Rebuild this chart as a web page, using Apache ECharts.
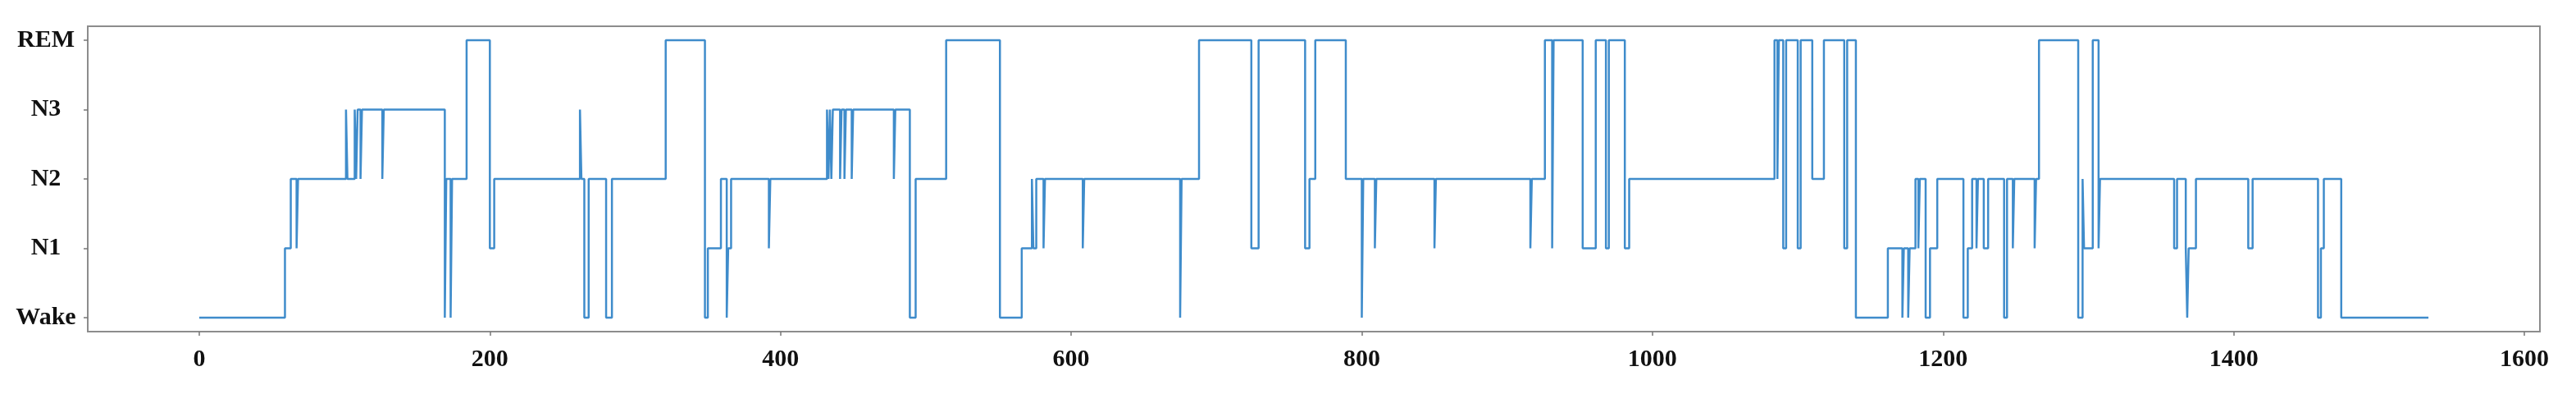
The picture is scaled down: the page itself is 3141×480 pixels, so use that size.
<!DOCTYPE html>
<html>
<head>
<meta charset="utf-8">
<script src="https://cdn.jsdelivr.net/npm/echarts@6/dist/echarts.min.js"></script>
<style>
  html, body { margin: 0; padding: 0; background: #fff; }
  #chart { width: 3141px; height: 480px; }
</style>
</head>
<body>
<div id="chart"></div>
<script>
// sleep stages, bottom to top
const stageNames = ['Wake', 'N1', 'N2', 'N3', 'REM']

// epoch where each stage run begins, and the stage of that run
const runStarts = [
  0, 59, 63, 67, 68, 101, 102, 107, 108, 109, 111, 112, 126, 127,
  169, 170, 173, 174, 184, 200, 203, 262, 263, 265, 268, 280, 284,
  321, 348, 350, 359, 363, 364, 366, 392, 393,
  432, 433, 434, 435, 436, 441, 442, 444, 445, 449, 450, 478, 479,
  489, 493, 514, 551, 566, 573, 574, 576, 581, 582, 608, 609,
  675, 676, 688, 724, 729, 761, 764, 768, 789, 800, 801, 809, 810,
  850, 851, 916, 917, 926, 931, 932, 952, 961, 968, 970, 981, 984,
  1084, 1086, 1087, 1090, 1092, 1100, 1102, 1110, 1118, 1132, 1134,
  1140, 1162, 1172, 1173, 1176, 1177, 1181, 1183, 1184, 1188, 1191, 1196,
  1214, 1217, 1220, 1223, 1224, 1228, 1231, 1242, 1244, 1248, 1249,
  1263, 1264, 1266, 1293, 1296, 1297, 1303, 1307, 1308,
  1359, 1361, 1367, 1368, 1369, 1374, 1410, 1413,
  1458, 1460, 1462, 1474
]
const runStages = [
  0, 1, 2, 1, 2, 3, 2, 3, 2, 3, 2, 3, 2, 3,
  0, 2, 0, 2, 4, 1, 2, 3, 2, 0, 2, 0, 2,
  4, 0, 1, 2, 0, 1, 2, 1, 2,
  3, 2, 3, 2, 3, 2, 3, 2, 3, 2, 3, 2, 3,
  0, 2, 4, 0, 1, 2, 1, 2, 1, 2, 1, 2,
  0, 2, 4, 1, 4, 1, 2, 4, 2, 0, 2, 1, 2,
  1, 2, 1, 2, 4, 1, 4, 1, 4, 1, 4, 1, 2,
  4, 2, 4, 1, 4, 1, 4, 2, 4, 1, 4,
  0, 1, 0, 1, 0, 1, 2, 1, 2, 0, 1, 2,
  0, 1, 2, 1, 2, 1, 2, 0, 2, 1, 2,
  1, 2, 4, 0, 2, 1, 4, 1, 2,
  1, 2, 1, 0, 1, 2, 1, 2,
  0, 1, 2, 0
]
const lastEpoch = 1534

const xTicks = [0, 200, 400, 600, 800, 1000, 1200, 1400, 1600]
const yTicks = [0, 1, 2, 3, 4]

const chart = echarts.init(document.getElementById('chart'))

// step line: each run holds its stage until the next run starts
const points = runStarts.map((x, i) => [x, runStages[i]])
points.push([lastEpoch, runStages[runStages.length - 1]])

const labelFont = {
  fontFamily: 'Liberation Serif',
  fontWeight: 'bold',
  fontSize: 30,
  color: '#111',
}

chart.setOption({
  animation: false,
  backgroundColor: '#fff',
  grid: {
    left: 107,
    right: 44,
    top: 32,
    bottom: 76,
    show: true,
    borderColor: '#8c8c8c',
    borderWidth: 2,
    backgroundColor: 'transparent',
  },
  xAxis: {
    type: 'value',
    min: -76.7,
    max: 1610.7,
    axisLine: { show: false, onZero: false },
    splitLine: { show: false },
    axisTick: {
      show: true,
      length: 5,
      customValues: xTicks,
      lineStyle: { color: '#777', width: 1.5 },
    },
    axisLabel: {
      ...labelFont,
      margin: 19,
      customValues: xTicks,
      formatter: v => String(v),
    },
  },
  yAxis: {
    type: 'value',
    min: -0.2,
    max: 4.2,
    axisLine: { show: false, onZero: false },
    splitLine: { show: false },
    axisTick: {
      show: true,
      length: 5,
      customValues: yTicks,
      lineStyle: { color: '#777', width: 1.5 },
    },
    axisLabel: {
      ...labelFont,
      align: 'center',
      margin: 51,
      customValues: yTicks,
      formatter: v => stageNames[v] ?? '',
    },
  },
  series: [{
    type: 'line',
    step: 'end',
    showSymbol: false,
    data: points,
    lineStyle: { color: '#3f8ccb', width: 2.5 },
  }],
})
</script>
</body>
</html>
